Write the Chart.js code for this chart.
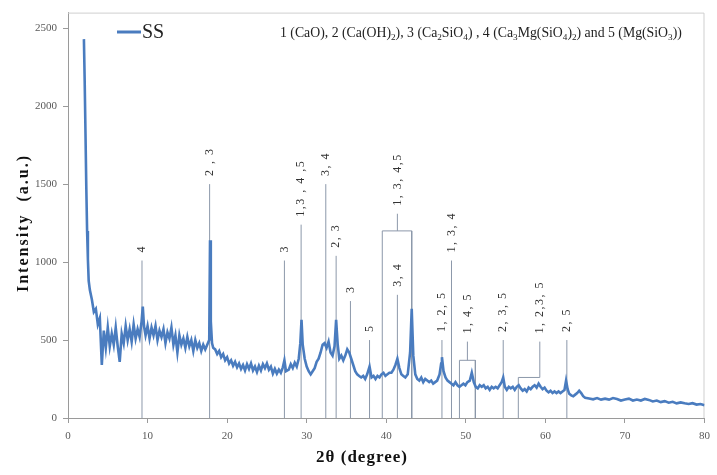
<!DOCTYPE html>
<html>
<head>
<meta charset="utf-8">
<script src="https://cdn.jsdelivr.net/npm/chart.js@4.4.0/dist/chart.umd.min.js"></script>
<style>
  html, body { margin: 0; padding: 0; background: #fff; }
  #wrap { width: 717px; height: 475px; position: relative; }
</style>
</head>
<body>
<div id="wrap"><canvas id="xrd"></canvas></div>
<script>
// 2theta (degree) and intensity (a.u.)
const twoTheta = [
  2.00, 2.10, 2.20, 2.30, 2.40, 2.50, 2.60, 2.75, 3.00, 3.25,
  3.50, 3.75, 4.00, 4.25, 4.50, 4.75, 5.00, 5.25, 5.50, 5.75,
  6.00, 6.25, 6.50, 6.75, 7.00, 7.25, 7.50, 7.75, 8.00, 8.25,
  8.50, 8.75, 9.00, 9.25, 9.40, 9.55, 9.75, 10.00, 10.25, 10.50,
  10.75, 11.00, 11.25, 11.50, 11.75, 12.00, 12.25, 12.50, 12.75, 13.00,
  13.25, 13.50, 13.75, 14.00, 14.25, 14.50, 14.75, 15.00, 15.25, 15.50,
  15.75, 16.00, 16.25, 16.50, 16.75, 17.00, 17.25, 17.50, 17.75, 17.85,
  17.95, 18.10, 18.25, 18.50, 18.75, 19.00, 19.25, 19.50, 19.75, 20.00,
  20.25, 20.50, 20.75, 21.00, 21.25, 21.50, 21.75, 22.00, 22.25, 22.50,
  22.75, 23.00, 23.25, 23.50, 23.75, 24.00, 24.25, 24.50, 24.75, 25.00,
  25.25, 25.50, 25.75, 26.00, 26.25, 26.50, 26.75, 27.00, 27.20, 27.40,
  27.75, 28.00, 28.25, 28.50, 28.75, 29.00, 29.20, 29.35, 29.50, 29.75,
  30.00, 30.25, 30.50, 30.75, 31.00, 31.25, 31.50, 31.75, 32.00, 32.25,
  32.50, 32.75, 33.00, 33.25, 33.50, 33.70, 33.90, 34.10, 34.35, 34.60,
  34.85, 35.10, 35.35, 35.60, 35.85, 36.10, 36.35, 36.60, 36.85, 37.10,
  37.35, 37.60, 37.90, 38.15, 38.40, 38.65, 38.90, 39.15, 39.40, 39.65,
  39.90, 40.15, 40.40, 40.65, 40.90, 41.15, 41.40, 41.65, 41.90, 42.15,
  42.40, 42.70, 43.00, 43.20, 43.40, 43.65, 43.90, 44.15, 44.40, 44.65,
  44.90, 45.15, 45.40, 45.65, 45.90, 46.15, 46.40, 46.70, 46.90, 47.00,
  47.20, 47.45, 47.70, 47.95, 48.20, 48.45, 48.70, 48.95, 49.20, 49.45,
  49.70, 49.95, 50.20, 50.50, 50.75, 51.00, 51.25, 51.50, 51.75, 52.00,
  52.25, 52.50, 52.75, 53.00, 53.25, 53.50, 53.75, 54.00, 54.25, 54.50,
  54.70, 54.90, 55.15, 55.40, 55.65, 55.90, 56.15, 56.40, 56.65, 56.90,
  57.15, 57.40, 57.65, 57.90, 58.15, 58.40, 58.65, 58.90, 59.15, 59.40,
  59.65, 59.90, 60.15, 60.40, 60.65, 60.90, 61.15, 61.40, 61.65, 61.90,
  62.15, 62.40, 62.60, 62.80, 63.00, 63.25, 63.50, 63.75, 64.00, 64.25,
  64.50, 64.75, 65.00, 65.50, 66.00, 66.50, 67.00, 67.50, 68.00, 68.50,
  69.00, 69.50, 70.00, 70.50, 71.00, 71.50, 72.00, 72.50, 73.00, 73.50,
  74.00, 74.50, 75.00, 75.50, 76.00, 76.50, 77.00, 77.50, 78.00, 78.50,
  79.00, 79.50, 80.00
];
const intensity = [
  2430, 2150, 1820, 1480, 1200, 1020, 880, 820, 760, 680,
  700, 600, 640, 340, 560, 450, 580, 460, 540, 470,
  580, 460, 360, 540, 480, 590, 500, 570, 490, 600,
  510, 570, 520, 620, 715, 590, 530, 590, 510, 580,
  530, 590, 500, 560, 520, 570, 480, 550, 510, 580,
  470, 530, 420, 530, 470, 510, 450, 520, 460, 500,
  430, 500, 450, 480, 430, 470, 440, 470, 500, 1140,
  620, 480, 450, 440, 410, 430, 390, 410, 370, 390,
  350, 370, 335, 360, 325, 350, 315, 340, 305, 345,
  315, 350, 305, 330, 295, 335, 305, 345, 320, 350,
  310, 330, 285, 315, 285, 310, 290, 325, 370, 300,
  310, 345, 320, 355, 330, 380, 480, 630, 470, 380,
  330, 300, 280, 300, 320, 360, 380, 420, 470, 480,
  450, 490, 420, 400, 460, 630, 470, 380, 400, 370,
  400, 440, 420, 380, 340, 300, 280, 270, 260, 270,
  250, 280, 330, 260, 270, 250, 270, 260, 280, 290,
  270, 280, 290, 290, 310, 340, 380, 320, 280, 270,
  260, 280, 420, 700, 400, 280, 250, 240, 260, 230,
  250, 240, 230, 240, 220, 230, 240, 280, 350, 390,
  300, 260, 240, 230, 220, 210, 230, 210, 200, 210,
  220, 210, 230, 240, 290, 230, 200, 190, 210, 200,
  210, 190, 200, 180, 200, 190, 200, 190, 210, 230,
  260, 200, 180, 200, 190, 200, 180, 200, 210, 190,
  175, 185, 170, 195, 185, 200, 210, 195, 220, 200,
  185, 195, 175, 165, 175, 160, 170, 160, 170, 160,
  170, 180, 240, 185, 155, 145, 140, 150, 160, 175,
  160, 140, 130, 125, 120, 128, 118, 124, 118, 128,
  122, 112, 118, 124, 112, 118, 112, 122, 116, 106,
  112, 102, 108, 98, 104, 94, 100, 94, 90, 95,
  86, 90, 82
];

const yTickValues = [0, 500, 1000, 1500, 2000, 2500];

// phase markers: angle, height of the drop line, label
const markerAngles = [9.3, 17.8, 27.2, 29.3, 32.4, 33.7, 35.5, 37.9, 41.4, 47.0, 48.2, 54.7, 62.7];
const markerTops = [1010, 1500, 1010, 1240, 1500, 1040, 750, 500, 790, 500, 1010, 500, 500];
const markerLabels = ['4', '2 , 3', '3', '1,3 , 4 ,5', '3, 4', '2, 3', '3', '5', '3, 4', '1, 2, 5', '1, 3, 4', '2, 3, 5', '2, 5'];

// grouped markers (brackets)
const bracketLeft = [39.5, 49.2, 56.6];
const bracketRight = [43.2, 51.2, 59.3];
const bracketTop = [1200, 370, 260];
const bracketClosed = [true, true, false];
const bracketStem = [41.4, 50.2, 59.3];
const bracketStemTop = [1310, 490, 490];
const bracketLabels = ['1, 3, 4,5', '1, 4, 5', '1, 2,3, 5'];

const seriesName = 'SS';
const xTitle = '2θ (degree)';
const yTitle = 'Intensity  (a.u.)';
// phase key, [text, isSubscript]
const phaseKey = [
  ['1 (CaO), 2 (Ca(OH)', false], ['2', true], ['), 3 (Ca', false], ['2', true],
  ['SiO', false], ['4', true], [') , 4 (Ca', false], ['3', true], ['Mg(SiO', false],
  ['4', true], [')', false], ['2', true], [') and 5 (Mg(SiO', false], ['3', true], ['))', false]
];

const curve = twoTheta.map((t, i) => ({ x: t, y: intensity[i] }));

const refPoints = [];
markerAngles.forEach((a, i) => {
  refPoints.push({ x: a, y: 0 }, { x: a, y: markerTops[i] }, { x: a, y: null });
});
bracketLeft.forEach((l, i) => {
  const r = bracketRight[i];
  refPoints.push({ x: l, y: 0 }, { x: l, y: bracketTop[i] }, { x: r, y: bracketTop[i] });
  if (bracketClosed[i]) refPoints.push({ x: r, y: 0 });
  refPoints.push({ x: r, y: null });
  const s = bracketStem[i];
  refPoints.push({ x: s, y: bracketTop[i] }, { x: s, y: bracketStemTop[i] }, { x: s, y: null });
});

const serif = '"Liberation Serif", "Times New Roman", serif';

function upText(ctx, x, yBottom, text) {
  ctx.save();
  ctx.translate(x, yBottom);
  ctx.rotate(-Math.PI / 2);
  ctx.fillText(text, 0, 0);
  ctx.restore();
}

const decorations = {
  id: 'decorations',
  beforeDatasetsDraw(chart) {
    const { ctx, chartArea: a } = chart;
    ctx.save();
    ctx.strokeStyle = '#cfcfcf';
    ctx.lineWidth = 1;
    ctx.beginPath();
    ctx.moveTo(a.left, a.top + 0.5);
    ctx.lineTo(a.right - 0.5, a.top + 0.5);
    ctx.lineTo(a.right - 0.5, a.bottom);
    ctx.stroke();
    ctx.restore();
  },
  afterDatasetsDraw(chart) {
    const { ctx, scales: { x, y } } = chart;
    ctx.save();
    // marker labels, written bottom-to-top
    ctx.fillStyle = '#333';
    ctx.font = '12px ' + serif;
    ctx.letterSpacing = '1.5px';
    ctx.textAlign = 'left';
    ctx.textBaseline = 'middle';
    markerAngles.forEach((ang, i) => {
      upText(ctx, x.getPixelForValue(ang), y.getPixelForValue(markerTops[i]) - 8, markerLabels[i]);
    });
    bracketStem.forEach((s, i) => {
      upText(ctx, x.getPixelForValue(s), y.getPixelForValue(bracketStemTop[i]) - 8, bracketLabels[i]);
    });
    ctx.letterSpacing = '0px';

    // legend
    ctx.strokeStyle = '#4a7cbf';
    ctx.lineWidth = 3;
    ctx.beginPath();
    ctx.moveTo(117, 32);
    ctx.lineTo(141, 32);
    ctx.stroke();
    ctx.fillStyle = '#222';
    ctx.font = '20px ' + serif;
    ctx.textBaseline = 'middle';
    ctx.fillText(seriesName, 142, 33);

    // phase key with subscripts, fitted to its span
    const startX = 280, endX = 682, base = 37;
    const big = 12, small = 8;
    let w = 0;
    phaseKey.forEach(([t, sub]) => {
      ctx.font = (sub ? small : big) + 'px ' + serif;
      w += ctx.measureText(t).width;
    });
    const k = (endX - startX) / w;
    ctx.textBaseline = 'alphabetic';
    ctx.fillStyle = '#222';
    let cx = startX;
    phaseKey.forEach(([t, sub]) => {
      ctx.font = ((sub ? small : big) * k).toFixed(2) + 'px ' + serif;
      ctx.fillText(t, cx, sub ? base + 3 : base);
      cx += ctx.measureText(t).width;
    });

    // axis titles
    ctx.fillStyle = '#111';
    ctx.font = 'bold 16px ' + serif;
    ctx.textAlign = 'center';
    ctx.textBaseline = 'middle';
    ctx.letterSpacing = '2px';
    ctx.save();
    ctx.translate(24, 223);
    ctx.rotate(-Math.PI / 2);
    ctx.fillText(yTitle, 0, 0);
    ctx.restore();
    ctx.font = 'bold 17px ' + serif;
    ctx.letterSpacing = '1px';
    ctx.fillText(xTitle, 362, 458);
    ctx.restore();
  }
};

new Chart(document.getElementById('xrd').getContext('2d'), {
  type: 'line',
  data: {
    datasets: [
      {
        label: seriesName,
        data: curve,
        borderColor: '#4a7cbf',
        borderWidth: 2.6,
        pointRadius: 0,
        tension: 0,
        order: 1
      },
      {
        label: 'markers',
        data: refPoints,
        borderColor: '#8c98aa',
        borderWidth: 1,
        pointRadius: 0,
        tension: 0,
        spanGaps: false,
        order: 2
      }
    ]
  },
  options: {
    responsive: true,
    maintainAspectRatio: false,
    animation: false,
    devicePixelRatio: 1,
    layout: { padding: { top: 7, right: 4, left: 0, bottom: 0 } },
    plugins: { legend: { display: false }, tooltip: { enabled: false } },
    scales: {
      x: {
        type: 'linear',
        min: 0,
        max: 80,
        ticks: { stepSize: 10, color: '#595959', font: { family: serif, size: 11 }, padding: 7, maxRotation: 0,
                 callback: v => String(v) },
        grid: { drawOnChartArea: false, drawTicks: true, tickLength: 5, color: '#9a9a9a' },
        border: { display: true, color: '#9a9a9a' },
        afterFit(axis) { axis.height = 57; }
      },
      y: {
        min: 0,
        max: 2600,
        afterBuildTicks(axis) { axis.ticks = yTickValues.map(v => ({ value: v })); },
        ticks: { color: '#595959', font: { family: serif, size: 11 }, padding: 6, callback: v => String(v) },
        grid: { drawOnChartArea: false, drawTicks: true, tickLength: 5, color: '#9a9a9a' },
        border: { display: true, color: '#9a9a9a' },
        afterFit(axis) { axis.width = 68; }
      }
    }
  },
  plugins: [decorations]
});
</script>
</body>
</html>
